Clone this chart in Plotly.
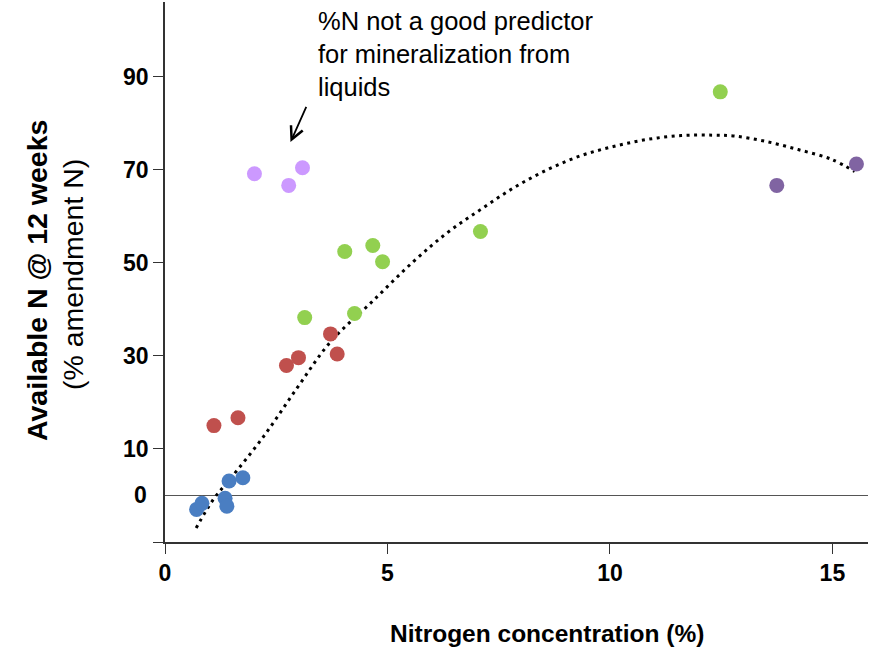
import plotly.graph_objects as go

# ---- data ----
blue_x = [0.71, 0.83, 1.35, 1.39, 1.44, 1.75]
blue_y = [-3.0, -1.7, -0.6, -2.3, 3.1, 3.8]

red_x = [1.10, 1.64, 2.73, 3.00, 3.72, 3.87]
red_y = [15.0, 16.7, 27.9, 29.6, 34.7, 30.4]

green_x = [3.14, 4.26, 4.04, 4.67, 4.89, 7.09, 12.48]
green_y = [38.2, 39.1, 52.4, 53.7, 50.2, 56.7, 86.7]

lilac_x = [2.01, 2.78, 3.09]
lilac_y = [69.1, 66.6, 70.4]

purple_x = [13.75, 15.54]
purple_y = [66.6, 71.2]

trend_x = [0.70, 1.09, 1.46, 2.21, 2.97, 3.72, 4.62, 5.59, 6.34, 7.09, 7.84,
           8.60, 9.35, 10.10, 10.85, 11.60, 12.30, 12.80, 13.48, 14.23, 14.98, 15.50]
trend_y = [-7.0, -0.8, 3.5, 12.6, 23.1, 33.0, 41.3, 50.3, 56.4, 61.4, 66.1,
           70.0, 73.0, 75.0, 76.5, 77.3, 77.4, 77.2, 76.1, 74.3, 72.2, 69.6]

y_tickvals = [-10, 10, 30, 50, 70, 90]
y_ticktext = ["", "10", "30", "50", "70", "90"]
x_tickvals = [0, 5, 10, 15]
x_ticktext = ["0", "5", "10", "15"]

FONT = "Liberation Sans, Arial, sans-serif"

fig = go.Figure()

fig.add_trace(go.Scatter(x=trend_x, y=trend_y, mode="lines",
                         line=dict(color="black", width=3, dash="3px,4.5px", shape="spline"),
                         hoverinfo="skip", showlegend=False))

groups = [
    (blue_x, blue_y, "#4A7EC2"),
    (red_x, red_y, "#C0504D"),
    (green_x, green_y, "#92D050"),
    (lilac_x, lilac_y, "#CC99FF"),
    (purple_x, purple_y, "#8064A2"),
]
for gx, gy, col in groups:
    fig.add_trace(go.Scatter(x=gx, y=gy, mode="markers",
                             marker=dict(color=col, size=15, line=dict(width=0)),
                             showlegend=False))

fig.update_layout(
    width=876, height=648,
    margin=dict(l=165, r=8, t=2, b=106),
    plot_bgcolor="white", paper_bgcolor="white",
    font=dict(family=FONT, color="black"),
    xaxis=dict(range=[0, 15.8], tickvals=x_tickvals, ticktext=x_ticktext,
               showgrid=False, zeroline=False, showline=True, linecolor="#333",
               linewidth=1.5, ticks="outside", ticklen=10, tickcolor="#333",
               tickfont=dict(size=23, family=FONT, weight="bold")),
    yaxis=dict(range=[-10, 106], tickvals=y_tickvals, ticktext=y_ticktext,
               showgrid=False, zeroline=True, zerolinecolor="#555", zerolinewidth=1.2,
               showline=True, linecolor="#333", linewidth=1.5,
               ticks="outside", ticklen=10, tickcolor="#333",
               tickfont=dict(size=23, family=FONT, weight="bold")),
)

annotations = [
    dict(x=0, y=0, xref="x", yref="y", text="<b>0</b>", showarrow=False,
         xanchor="right", xshift=-16, font=dict(size=23, family=FONT)),
    dict(x=(547 - 165) / 703, y=(542 - 633) / 540, xref="paper", yref="paper",
         text="<b>Nitrogen concentration (%)</b>", showarrow=False,
         xanchor="center", yanchor="middle", font=dict(size=24.5, family=FONT)),
    dict(x=(37 - 165) / 703, y=(542 - 281) / 540, xref="paper", yref="paper",
         text="<b>Available N @ 12 weeks</b>", showarrow=False, textangle=-90,
         xanchor="center", yanchor="middle", font=dict(size=28.5, family=FONT)),
    dict(x=(73 - 165) / 703, y=(542 - 275) / 540, xref="paper", yref="paper",
         text="(% amendment N)", showarrow=False, textangle=-90,
         xanchor="center", yanchor="middle", font=dict(size=28.5, family=FONT)),
    dict(x=(316 - 165) / 703, y=(542 - 5) / 540, xref="paper", yref="paper",
         text="%N not a good predictor<br>for mineralization from<br>liquids",
         showarrow=False, xanchor="left", yanchor="top", align="left",
         font=dict(size=25.5, family=FONT)),
    dict(x=2.82, y=75.9, ax=3.19, ay=83.8, xref="x", yref="y", axref="x", ayref="y",
         text="", showarrow=True, arrowhead=5, arrowsize=1.4, arrowwidth=1.8,
         arrowcolor="black", standoff=0),
]
fig.update_layout(annotations=annotations)

fig.write_html("out.html", config={"displayModeBar": False},
               post_script="document.body.style.margin='0';document.body.style.padding='0';")
